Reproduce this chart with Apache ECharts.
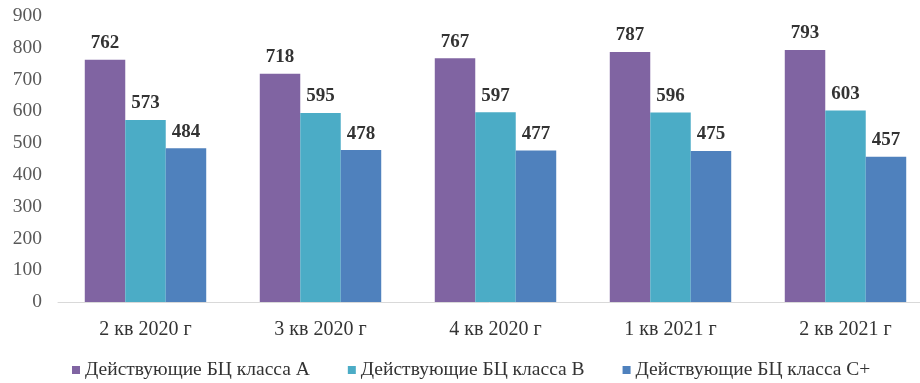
<!DOCTYPE html>
<html>
<head>
<meta charset="utf-8">
<script src="https://cdn.jsdelivr.net/npm/echarts@6/dist/echarts.min.js"></script>
<style>
  html, body { margin: 0; padding: 0; background: #fff; }
  #chart { width: 920px; height: 383px; }
</style>
</head>
<body>
<div id="chart"></div>
<script>
// Quarters on the category axis
const categories = ['2 кв 2020 г', '3 кв 2020 г', '4 кв 2020 г', '1 кв 2021 г', '2 кв 2021 г'];

// Operating business centres by class
const seriesNames = ['Действующие БЦ класса A', 'Действующие БЦ класса B', 'Действующие БЦ класса C+'];
const classA = [762, 718, 767, 787, 793];
const classB = [573, 595, 597, 596, 603];
const classC = [484, 478, 477, 475, 457];

// Value axis ticks
const yTicks = [0, 100, 200, 300, 400, 500, 600, 700, 800, 900];

const colors = ['#8064A2', '#4BACC6', '#4F81BD'];
const serif = '"Liberation Serif", "DejaVu Serif", serif';

const chart = echarts.init(document.getElementById('chart'));

function barSeries(name, data, color) {
  return {
    name: name,
    type: 'bar',
    data: data,
    barGap: '0%',
    barCategoryGap: '30.6%',
    itemStyle: { color: color },
    label: {
      show: true,
      position: 'top',
      distance: 7,
      fontFamily: serif,
      fontSize: 19,
      fontWeight: 'bold',
      color: '#333'
    }
  };
}

chart.setOption({
  animation: false,
  backgroundColor: '#fff',
  grid: { left: 58, width: 875, top: 16, bottom: 81, containLabel: false, outerBoundsMode: 'none' },
  legend: {
    top: 360,
    left: 72,
    padding: 0,
    itemWidth: 8,
    itemHeight: 8,
    itemGap: 38,
    icon: 'rect',
    textStyle: { fontFamily: serif, fontSize: 19.5, color: '#333' },
    data: seriesNames
  },
  xAxis: {
    type: 'category',
    data: categories,
    axisLine: { lineStyle: { color: '#d9d9d9', width: 1 } },
    axisTick: { show: false },
    axisLabel: { fontFamily: serif, fontSize: 20, color: '#333', margin: 18 }
  },
  yAxis: {
    type: 'value',
    min: yTicks[0],
    max: yTicks[yTicks.length - 1],
    interval: yTicks[1] - yTicks[0],
    splitLine: { show: false },
    axisLine: { show: false },
    axisTick: { show: false },
    axisLabel: { fontFamily: serif, fontSize: 19.5, color: '#595959', margin: 16 }
  },
  series: [
    barSeries(seriesNames[0], classA, colors[0]),
    barSeries(seriesNames[1], classB, colors[1]),
    barSeries(seriesNames[2], classC, colors[2])
  ]
});
</script>
</body>
</html>
